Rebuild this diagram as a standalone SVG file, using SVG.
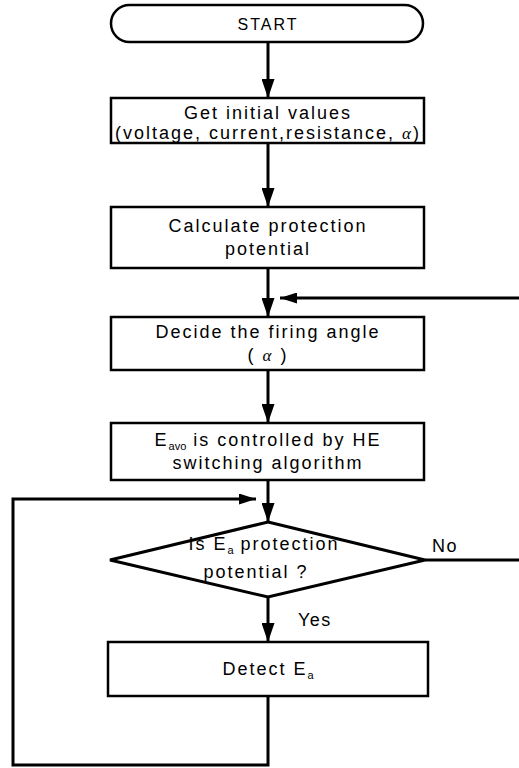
<svg xmlns="http://www.w3.org/2000/svg" width="519" height="768" viewBox="0 0 519 768">
<style>
.box{fill:#fff;stroke:#000;stroke-width:2.5}
.t{font-family:"Liberation Sans",Arial,sans-serif;font-size:18px;letter-spacing:2px;fill:#000;text-anchor:middle}
.lbl{font-family:"Liberation Sans",Arial,sans-serif;font-size:18px;letter-spacing:1.5px;fill:#000}
.al{font-family:"Liberation Serif",serif;font-style:italic;font-size:17px}
.sub{font-size:11px;letter-spacing:0}
.c{fill:none;stroke:#000;stroke-width:3}
</style>
<defs>
<marker id="ahd" markerWidth="19" markerHeight="13" refX="19" refY="6.5" orient="auto" markerUnits="userSpaceOnUse" viewBox="0 0 19 13">
<path d="M0,0 L19,6.5 L0,13 z" fill="#000"/>
</marker>
<marker id="ahs" markerWidth="17" markerHeight="11" refX="17" refY="5.5" orient="auto" markerUnits="userSpaceOnUse" viewBox="0 0 17 11">
<path d="M0,0 L17,5.5 L0,11 z" fill="#000"/>
</marker>
</defs>
<g id="connectors">
<line class="c" x1="268" y1="42" x2="268" y2="98" marker-end="url(#ahd)"/>
<line class="c" x1="268" y1="143" x2="268" y2="207" marker-end="url(#ahd)"/>
<line class="c" x1="268" y1="268" x2="268" y2="317" marker-end="url(#ahd)"/>
<line class="c" x1="519" y1="298" x2="280" y2="298" marker-end="url(#ahs)"/>
<line class="c" x1="268" y1="370" x2="268" y2="423" marker-end="url(#ahd)"/>
<line class="c" x1="268" y1="480" x2="268" y2="522" marker-end="url(#ahd)"/>
<line class="c" x1="268" y1="597" x2="268" y2="642" marker-end="url(#ahd)"/>
<line class="c" x1="425" y1="560" x2="519" y2="560"/>
<polyline class="c" points="268,696 268,765 13,765 13,499 256,499" marker-end="url(#ahs)"/>
<text class="lbl" x="432" y="552">No</text>
<text class="lbl" x="298" y="626">Yes</text>
</g>
<g id="start">
<rect class="box" x="111" y="5" width="312" height="37" rx="18.5"/>
<text class="t" x="268" y="30" style="font-size:16px">START</text>
</g>
<g id="init">
<rect class="box" x="111" y="98" width="313" height="45"/>
<text class="t" x="268" y="119">Get initial values</text>
<text class="t" x="268" y="139">(voltage, current,resistance, <tspan class="al">α</tspan>)</text>
</g>
<g id="calc">
<rect class="box" x="111" y="207" width="313" height="61"/>
<text class="t" x="268" y="232">Calculate protection</text>
<text class="t" x="268" y="255">potential</text>
</g>
<g id="decide">
<rect class="box" x="111" y="317" width="313" height="53"/>
<text class="t" x="268" y="338">Decide the firing angle</text>
<text class="t" x="268" y="361">( <tspan class="al">α</tspan> )</text>
</g>
<g id="eavo">
<rect class="box" x="111" y="423" width="313" height="57"/>
<text class="t" x="268" y="446">E<tspan class="sub" dy="4">avo</tspan><tspan dy="-4"> is controlled by HE</tspan></text>
<text class="t" x="268" y="469">switching algorithm</text>
</g>
<g id="decision">
<polygon points="268,522 425,560 268,597 110,560" fill="#fff" stroke="#000" stroke-width="3"/>
<text class="t" x="264" y="550">Is E<tspan class="sub" dy="4">a</tspan><tspan dy="-4"> protection</tspan></text>
<text class="t" x="256" y="578">potential ?</text>
</g>
<g id="detect">
<rect class="box" x="108" y="642" width="320" height="54"/>
<text class="t" x="268" y="675">Detect E<tspan class="sub" dy="4">a</tspan></text>
</g>
</svg>
